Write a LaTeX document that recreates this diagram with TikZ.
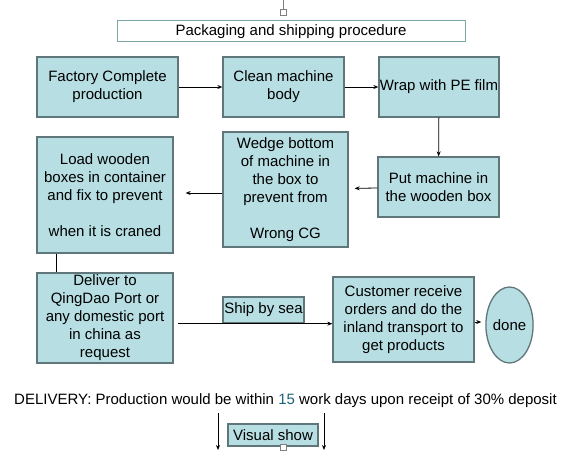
\documentclass[tikz,border=0pt]{standalone}
\usepackage{fontspec}
\setmainfont{Liberation Sans}
\usetikzlibrary{shapes.geometric,arrows.meta}
\definecolor{boxfill}{RGB}{183,222,226}
\definecolor{boxline}{RGB}{95,118,122}
\definecolor{titleline}{RGB}{125,165,165}
\definecolor{numcol}{RGB}{30,100,120}
\tikzset{
  flowbox/.style={draw=boxline, line width=1.3pt, fill=boxfill, inner sep=0pt,
    align=center, text=black, font=\fontsize{15}{18}\selectfont},
  arr/.style={-{Stealth[length=5pt,width=4pt]}, line width=0.8pt, black},
  plain/.style={line width=0.8pt, black},
  handle/.style={draw=gray, fill=white, line width=0.6pt, minimum size=6pt, inner sep=0pt}
}
\begin{document}
\begin{tikzpicture}[x=1pt,y=-1pt]
\useasboundingbox[fill=white] (0,0) rectangle (580,454);

\node[draw=titleline, line width=1pt, fill=white, minimum width=348pt, minimum height=21pt,
  inner sep=0pt, font=\fontsize{15}{18}\selectfont] (title) at (291,31.5) {Packaging and shipping procedure};

\node[flowbox, minimum width=141pt, minimum height=60pt] (factory) at (107.5,87) {Factory Complete\\production};
\node[flowbox, minimum width=121pt, minimum height=60pt] (clean) at (283.5,87) {Clean machine\\body};
\node[flowbox, minimum width=120pt, minimum height=60pt] (wrap) at (439,87) {Wrap with PE film};
\node[flowbox, minimum width=121pt, minimum height=60pt] (put) at (438.5,187) {Put machine in\\the wooden box};
\node[flowbox, minimum width=125pt, minimum height=115pt] (wedge) at (285.5,189.5) {Wedge bottom\\of machine in\\the box to\\prevent from\\\strut\\Wrong CG};
\node[flowbox, minimum width=136pt, minimum height=116pt] (load) at (105,195) {Load wooden\\boxes in container\\and fix to prevent\\\strut\\when it is craned};
\node[flowbox, minimum width=136pt, minimum height=90pt] (deliver) at (105,318) {Deliver to\\QingDao Port or\\any domestic port\\in china as\\request};
\node[flowbox, minimum width=81pt, minimum height=26pt] (ship) at (263.5,310) {Ship by sea};
\node[flowbox, minimum width=141pt, minimum height=85pt] (customer) at (403.5,319.5) {Customer receive\\orders and do the\\inland transport to\\get products};
\node[flowbox, ellipse, minimum width=41pt, minimum height=76pt] (done) at (509.5,325) {done};

\node[font=\fontsize{15}{18}\selectfont, inner sep=0pt] (delivery) at (285.5,401)
  {DELIVERY: Production would be within {\color{numcol}15} work days upon receipt of 30\% deposit};
\node[flowbox, minimum width=90pt, minimum height=22pt] (visual) at (273,435) {Visual show};

\draw[arr] (factory) -- (clean);
\draw[arr] (clean) -- (wrap);
\draw[arr] (wrap) -- (put);
\draw[arr, shorten >=6pt] (put) -- (wedge);
\draw[arr, shorten >=12pt] (wedge.west |- 0,193) -- (load.east |- 0,193);
\draw[plain] ([xshift=20pt]load.south west) -- ([xshift=20pt]deliver.north west);
\draw[arr] ([xshift=4pt]deliver.east |- ship.south) -- (customer.west |- ship.south);
\draw[arr, shorten >=4pt] (customer.east |- 0,322) -- (done.west |- 0,322);

\coordinate (l1) at (218,413);
\coordinate (l2) at (218,450);
\coordinate (r1) at (324,413);
\coordinate (r2) at (324,450);
\draw[arr] (l1) -- (l2);
\draw[arr] (r1) -- (r2);

\coordinate (htop) at (283,0);
\node[handle] (hsq) at (283,12) {};
\draw[gray, line width=0.6pt] (htop) -- (hsq.north);
\node[handle] (hsq2) at (283,447) {};
\end{tikzpicture}
\end{document}
